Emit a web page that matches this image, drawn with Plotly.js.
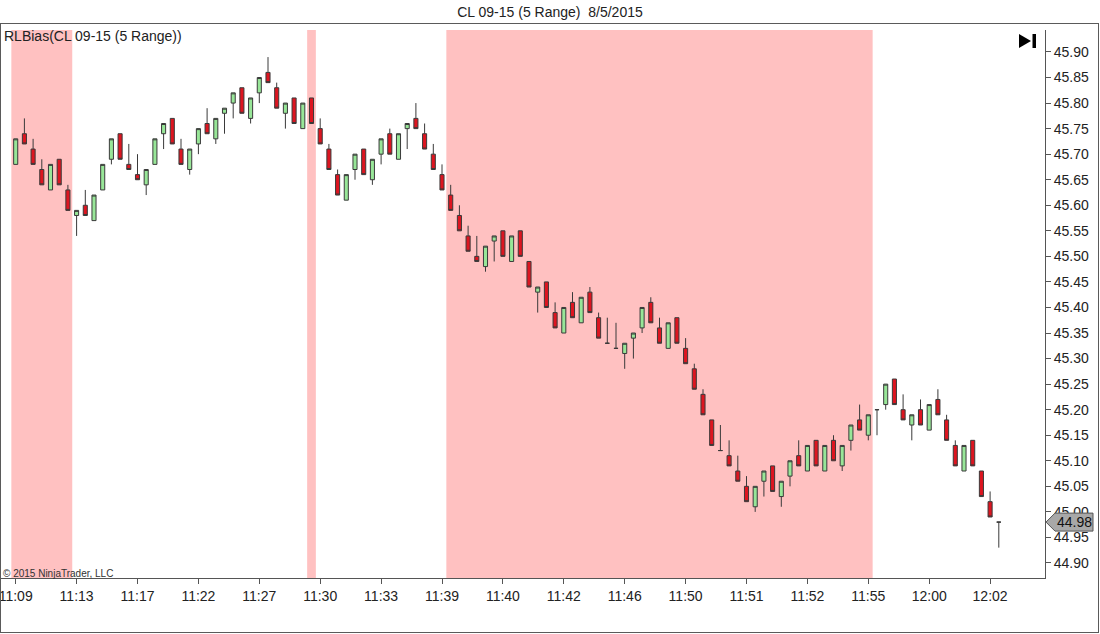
<!DOCTYPE html>
<html><head><meta charset="utf-8">
<script src="https://cdn.plot.ly/plotly-3.0.1.min.js"></script>
<style>
html,body{margin:0;padding:0;background:#fff;}
#wrap{position:relative;width:1100px;height:634px;overflow:hidden;}
#chart{width:1100px;height:634px;}
#frame{position:absolute;left:0;top:23px;width:1099px;height:610px;box-sizing:border-box;border:1px solid #5a5a5a;pointer-events:none;}
</style>
</head><body><div id="wrap"><div id="chart"></div><div id="frame"></div></div>
<script>
// ---- data (bar index = position on the range-bar axis) ----
const opens = [45.68,45.74,45.71,45.67,45.63,45.69,45.63,45.58,45.60,45.57,
45.63,45.69,45.74,45.68,45.66,45.64,45.68,45.74,45.77,45.71,
45.67,45.72,45.76,45.73,45.78,45.80,45.83,45.77,45.82,45.86,
45.83,45.78,45.81,45.75,45.81,45.75,45.71,45.66,45.61,45.67,
45.71,45.65,45.70,45.74,45.69,45.75,45.77,45.74,45.70,45.66,
45.62,45.58,45.54,45.50,45.48,45.53,45.55,45.49,45.55,45.49,
45.43,45.45,45.39,45.35,45.41,45.37,45.43,45.38,45.33,45.32,
45.31,45.34,45.36,45.41,45.36,45.32,45.38,45.32,45.28,45.23,
45.18,45.12,45.11,45.08,45.05,45.01,45.06,45.09,45.03,45.07,
45.11,45.08,45.14,45.08,45.14,45.09,45.14,45.18,45.15,45.20,
45.21,45.26,45.20,45.17,45.20,45.16,45.22,45.18,45.13,45.08,
45.14,45.08,45.02,44.98];
const highs = [45.73,45.77,45.73,45.69,45.68,45.69,45.64,45.59,45.63,45.62,
45.68,45.73,45.74,45.72,45.70,45.67,45.73,45.76,45.77,45.73,
45.71,45.75,45.79,45.77,45.79,45.82,45.83,45.81,45.85,45.89,
45.84,45.80,45.81,45.80,45.81,45.77,45.72,45.67,45.66,45.70,
45.71,45.69,45.73,45.75,45.74,45.76,45.80,45.76,45.72,45.68,
45.64,45.60,45.56,45.54,45.52,45.54,45.55,45.54,45.55,45.49,
45.44,45.45,45.41,45.40,45.43,45.42,45.44,45.39,45.38,45.37,
45.33,45.35,45.40,45.42,45.38,45.37,45.38,45.34,45.29,45.24,
45.18,45.17,45.14,45.11,45.07,45.05,45.08,45.09,45.06,45.10,
45.14,45.13,45.14,45.13,45.15,45.13,45.17,45.21,45.19,45.20,
45.25,45.26,45.23,45.19,45.22,45.21,45.24,45.19,45.14,45.13,
45.14,45.08,45.04,44.98];
const lows = [45.68,45.72,45.68,45.64,45.63,45.64,45.59,45.54,45.58,45.57,
45.63,45.68,45.69,45.67,45.65,45.62,45.68,45.71,45.72,45.68,
45.66,45.70,45.74,45.72,45.74,45.77,45.78,45.76,45.80,45.84,
45.79,45.75,45.76,45.75,45.76,45.72,45.67,45.62,45.61,45.65,
45.66,45.64,45.68,45.70,45.69,45.71,45.75,45.71,45.67,45.63,
45.59,45.55,45.51,45.49,45.47,45.49,45.50,45.49,45.50,45.44,
45.39,45.40,45.36,45.35,45.38,45.37,45.39,45.34,45.33,45.32,
45.28,45.30,45.35,45.37,45.33,45.32,45.33,45.29,45.24,45.19,
45.13,45.12,45.09,45.06,45.02,45.00,45.03,45.04,45.01,45.05,
45.09,45.08,45.09,45.08,45.10,45.08,45.12,45.16,45.14,45.15,
45.20,45.21,45.18,45.14,45.17,45.16,45.19,45.14,45.09,45.08,
45.09,45.03,44.99,44.93];
const closes = [45.73,45.72,45.68,45.64,45.68,45.64,45.59,45.59,45.58,45.62,
45.68,45.73,45.69,45.67,45.65,45.67,45.73,45.76,45.72,45.68,
45.71,45.75,45.74,45.77,45.79,45.82,45.78,45.81,45.85,45.84,
45.79,45.80,45.76,45.80,45.76,45.72,45.67,45.62,45.66,45.70,
45.66,45.69,45.73,45.70,45.74,45.76,45.75,45.71,45.67,45.63,
45.59,45.55,45.51,45.49,45.52,45.54,45.50,45.54,45.50,45.44,
45.44,45.40,45.36,45.40,45.38,45.42,45.39,45.34,45.33,45.32,
45.33,45.35,45.40,45.37,45.33,45.37,45.33,45.29,45.24,45.19,
45.13,45.12,45.09,45.06,45.02,45.05,45.08,45.04,45.06,45.10,
45.09,45.13,45.09,45.13,45.10,45.13,45.17,45.16,45.19,45.20,
45.25,45.21,45.18,45.19,45.17,45.21,45.19,45.14,45.09,45.13,
45.09,45.03,44.99,44.98];
const timeLabels = ['11:09','11:13','11:17','11:22','11:27','11:30','11:33','11:39','11:40',
  '11:42','11:46','11:50','11:51','11:52','11:55','12:00','12:02'];
const labelEvery = 7;
const biasStart = [0, 34, 50];
const biasEnd   = [6, 34, 98];
const chartTitle = 'CL 09-15 (5 Range)\u00A0\u00A08/5/2015';
const indicatorLabel = 'RLBias(CL 09-15 (5 Range))';
const copyrightText = '\u00A9 2015 NinjaTrader, LLC';

// ---- layout / style ----
const W = 1100, H = 634;
const M = {l: 0, r: 55, t: 30, b: 56};
const plotW = W - M.l - M.r, plotH = H - M.t - M.b;
const xRange = [-1.805, 118.31];
const yRange = [44.8706, 45.943];
const px2paperX = px => (px - M.l) / plotW;
const px2paperY = py => (H - M.b - py) / plotH;
const pricePerPx = (yRange[1] - yRange[0]) / plotH;
const font = 'Liberation Sans, Arial, sans-serif';

const xIdx = opens.map((_, i) => i);
const tickVals = timeLabels.map((_, i) => i * labelEvery);

const trace = {
  type: 'candlestick',
  x: xIdx, open: opens, high: highs, low: lows, close: closes,
  increasing: {fillcolor: '#98E698', line: {color: '#3a3a3a', width: 1}},
  decreasing: {fillcolor: '#DD1520', line: {color: '#3a3a3a', width: 1}},
  whiskerwidth: 0,
  showlegend: false,
  hoverinfo: 'skip'
};

const shapes = biasStart.map((s, k) => ({
  type: 'rect', layer: 'below', xref: 'x', yref: 'paper',
  x0: s - 0.5, x1: biasEnd[k] + 0.5, y0: 0, y1: 1,
  fillcolor: '#FFC1C1', line: {width: 0}
}));

// "go to end" icon
shapes.push({
  type: 'path', xref: 'paper', yref: 'paper', layer: 'above',
  path: `M ${px2paperX(1019)} ${px2paperY(34)} L ${px2paperX(1019)} ${px2paperY(48)} L ${px2paperX(1031)} ${px2paperY(41)} Z`,
  fillcolor: '#000', line: {width: 0}
});
shapes.push({
  type: 'rect', xref: 'paper', yref: 'paper', layer: 'above',
  x0: px2paperX(1032.5), x1: px2paperX(1036), y0: px2paperY(48), y1: px2paperY(34),
  fillcolor: '#000', line: {width: 0}
});

// last price marker
const lastClose = closes[closes.length - 1];
const hh = 9 * pricePerPx;
shapes.push({
  type: 'path', xref: 'paper', yref: 'y', layer: 'above',
  path: `M ${px2paperX(1046)} ${lastClose} L ${px2paperX(1055)} ${lastClose + hh} L ${px2paperX(1093)} ${lastClose + hh} L ${px2paperX(1093)} ${lastClose - hh} L ${px2paperX(1055)} ${lastClose - hh} Z`,
  fillcolor: '#A8A8A8', line: {color: '#555', width: 1}
});

const annotations = [
  {xref: 'paper', yref: 'paper', x: px2paperX(2), y: px2paperY(36), xanchor: 'left', yanchor: 'middle',
   text: indicatorLabel, showarrow: false, font: {family: font, size: 14, color: '#222'}},
  {xref: 'paper', yref: 'paper', x: px2paperX(1), y: px2paperY(573), xanchor: 'left', yanchor: 'middle',
   text: copyrightText, showarrow: false, font: {family: font, size: 10, color: '#333'}},
  {xref: 'paper', yref: 'y', x: px2paperX(1074), y: lastClose, xanchor: 'center', yanchor: 'middle',
   text: lastClose.toFixed(2), showarrow: false, font: {family: font, size: 14, color: '#111'}}
];

const layout = {
  width: W, height: H, margin: M,
  paper_bgcolor: '#fff', plot_bgcolor: '#fff',
  title: {text: chartTitle, xref: 'container', yref: 'container', x: 0.5, y: 1 - 12 / H,
          xanchor: 'center', yanchor: 'middle', font: {family: font, size: 14, color: '#222'}},
  showlegend: false, hovermode: false, boxgap: 0.33,
  xaxis: {
    type: 'linear', range: xRange, rangeslider: {visible: false},
    tickmode: 'array', tickvals: tickVals, ticktext: timeLabels,
    ticks: 'outside', ticklen: 5, tickcolor: '#555', tickwidth: 1,
    ticklabeloverflow: 'allow',
    showline: true, linecolor: '#555', linewidth: 1,
    showgrid: false, zeroline: false,
    tickfont: {family: font, size: 14, color: '#222'}
  },
  yaxis: {
    side: 'right', range: yRange, tickmode: 'linear', tick0: 44.90, dtick: 0.05,
    tickformat: '.2f', ticks: 'outside', ticklen: 5, tickcolor: '#555', tickwidth: 1,
    ticklabeloverflow: 'allow',
    showline: true, linecolor: '#555', linewidth: 1,
    showgrid: false, zeroline: false,
    tickfont: {family: font, size: 14, color: '#222'}
  },
  shapes: shapes,
  annotations: annotations
};

Plotly.newPlot('chart', [trace], layout, {displayModeBar: false, staticPlot: true});
</script>
</body></html>
